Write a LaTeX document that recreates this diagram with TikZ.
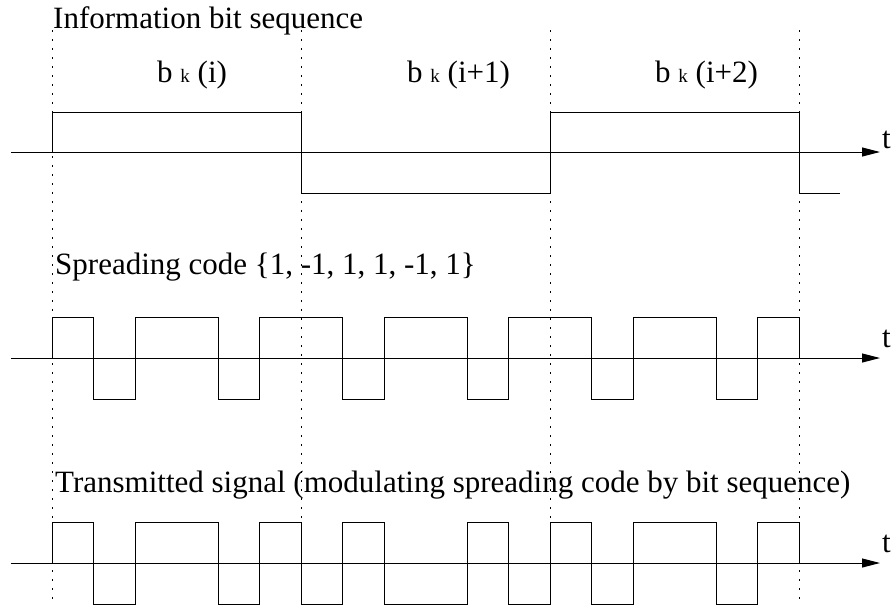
\documentclass[tikz,border=0pt]{standalone}
\usepackage{fontspec}
\setmainfont{Liberation Serif}
\usetikzlibrary{arrows.meta}
\tikzset{
  wave/.style={line width=1pt, line join=miter},
  axis/.style={line width=1pt, -{Triangle[length=18pt,width=9pt]}},
  bitdiv/.style={line width=1pt, dash pattern=on 2pt off 7pt},
  lbl/.style={anchor=base west, inner sep=0pt, font=\fontsize{31}{37}\selectfont},
  tlbl/.style={anchor=base west, inner sep=0pt, font=\fontsize{31}{37}\selectfont}
}
\newcommand{\smk}{{\fontsize{19}{21}\selectfont k}}
\begin{document}
\begin{tikzpicture}[x=1pt,y=-1pt]
\useasboundingbox (0,0) rectangle (894,611);
% dotted bit boundaries
\foreach \xx/\nm in {52/d0,301/d1,550/d2,799/d3}{
  \coordinate (\nm t) at (\xx,30);
  \coordinate (\nm b) at (\xx,600);
  \draw[bitdiv] (\nm t) -- (\nm b);
}
% titles
\node[lbl] (title1) at (53,28) {Information bit sequence};
\node[lbl] (b1) at (157,82) {b\ \smk\ (i)};
\node[lbl] (b2) at (407,82) {b\ \smk\ (i+1)};
\node[lbl] (b3) at (655,82) {b\ \smk\ (i+2)};
\node[lbl] (title2) at (55,274) {Spreading code \{1, -1, 1, 1, -1, 1\}};
\node[lbl] (title3) at (55,492) {Transmitted signal (modulating spreading code by bit sequence)};
% axes
\coordinate (a1s) at (11,152); \coordinate (a1e) at (880,152);
\coordinate (a2s) at (11,358); \coordinate (a2e) at (880,358);
\coordinate (a3s) at (11,563); \coordinate (a3e) at (880,563);
\draw[axis] (a1s) -- (a1e);
\draw[axis] (a2s) -- (a2e);
\draw[axis] (a3s) -- (a3e);
\node[tlbl] (t1) at (882,148) {t};
\node[tlbl] (t2) at (882,347) {t};
\node[tlbl] (t3) at (882,552) {t};
% information bits
\draw[wave] (52,152) -- (52,112) -- (301,112) -- (301,193) -- (550,193) -- (550,112) -- (799,112) -- (799,193) -- (840,193);
% spreading code
\draw[wave] (52,358) -- (52,317) -- (93.5,317) -- (93.5,399) -- (135,399) -- (135,317) -- (218,317) -- (218,399) -- (259.5,399) -- (259.5,317) -- (342.5,317) -- (342.5,399) -- (384,399) -- (384,317) -- (467,317) -- (467,399) -- (508.5,399) -- (508.5,317) -- (591.5,317) -- (591.5,399) -- (633,399) -- (633,317) -- (716,317) -- (716,399) -- (757.5,399) -- (757.5,317) -- (799,317) -- (799,358);
% transmitted signal
\draw[wave] (52,563) -- (52,522) -- (93.5,522) -- (93.5,604) -- (135,604) -- (135,522) -- (218,522) -- (218,604) -- (259.5,604) -- (259.5,522) -- (301,522) -- (301,604) -- (342.5,604) -- (342.5,522) -- (384,522) -- (384,604) -- (467,604) -- (467,522) -- (508.5,522) -- (508.5,604) -- (550,604) -- (550,522) -- (591.5,522) -- (591.5,604) -- (633,604) -- (633,522) -- (716,522) -- (716,604) -- (757.5,604) -- (757.5,522) -- (799,522) -- (799,563);
\end{tikzpicture}
\end{document}
